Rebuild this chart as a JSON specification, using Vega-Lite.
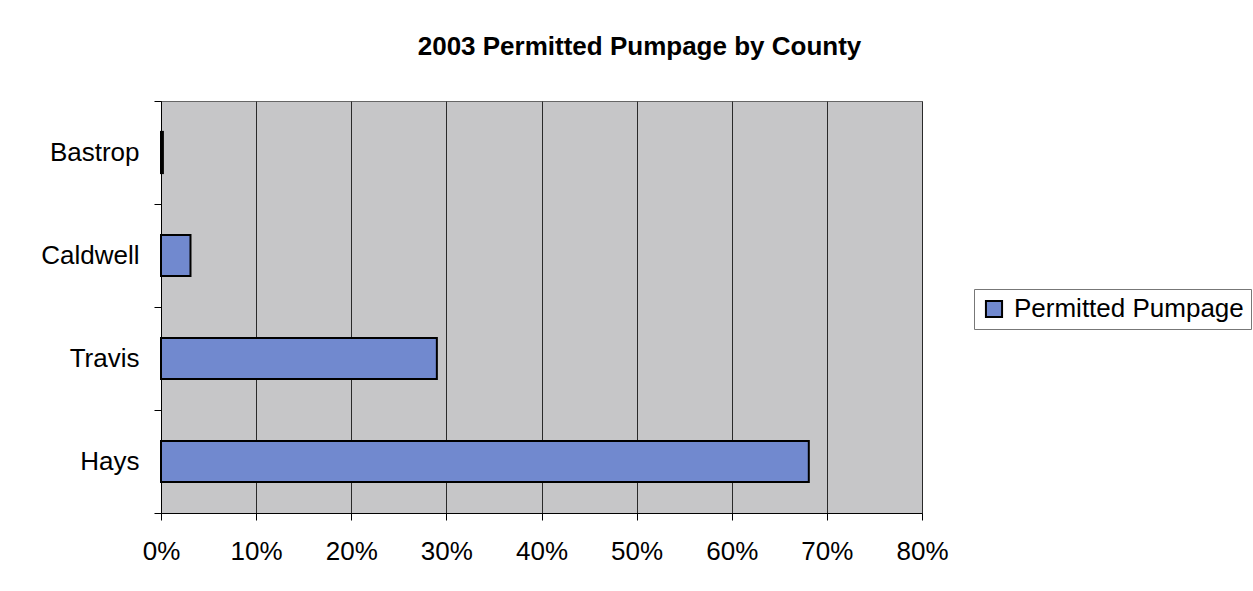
{
  "$schema": "https://vega.github.io/schema/vega-lite/v6.json",
  "width": 761,
  "height": 412,
  "autosize": {"type": "none"},
  "padding": {"left": 161, "top": 101, "right": 331, "bottom": 78},
  "background": "white",
  "title": {
    "text": "2003 Permitted Pumpage by County",
    "font": "Liberation Sans",
    "fontSize": 26,
    "fontWeight": "bold",
    "color": "black",
    "anchor": "middle",
    "dx": 98,
    "offset": 28
  },
  "data": {
    "values": [
      {"county": "Bastrop", "share": 0.002},
      {"county": "Caldwell", "share": 0.031},
      {"county": "Travis", "share": 0.29},
      {"county": "Hays", "share": 0.681}
    ]
  },
  "mark": {"type": "bar", "stroke": "black", "strokeWidth": 2, "height": {"band": 0.4}},
  "encoding": {
    "y": {
      "field": "county",
      "type": "nominal",
      "sort": ["Bastrop", "Caldwell", "Travis", "Hays"],
      "scale": {"paddingInner": 0, "paddingOuter": 0},
      "axis": {
        "title": null,
        "tickBand": "extent",
        "tickSize": 7,
        "tickColor": "black",
        "domainColor": "black",
        "labelFont": "Liberation Sans",
        "labelFontSize": 26,
        "labelColor": "black",
        "labelPadding": 15,
        "grid": false
      }
    },
    "x": {
      "field": "share",
      "type": "quantitative",
      "scale": {"domain": [0, 0.8], "nice": false},
      "axis": {
        "title": null,
        "values": [0, 0.1, 0.2, 0.3, 0.4, 0.5, 0.6, 0.7, 0.8],
        "format": ".0%",
        "tickSize": 7,
        "tickColor": "black",
        "domainColor": "black",
        "grid": true,
        "gridColor": "#2a2a2a",
        "gridOpacity": 1,
        "labelFlush": false,
        "labelFont": "Liberation Sans",
        "labelFontSize": 26,
        "labelColor": "black",
        "labelPadding": 18
      }
    },
    "color": {
      "datum": "Permitted Pumpage",
      "type": "nominal",
      "scale": {"range": ["#7189cf"]},
      "legend": {
        "title": null,
        "orient": "none",
        "legendX": 813,
        "legendY": 188,
        "padding": 7,
        "strokeColor": "#777777",
        "fillColor": "white",
        "symbolType": "square",
        "symbolSize": 260,
        "symbolStrokeColor": "black",
        "symbolStrokeWidth": 2,
        "symbolOpacity": 1,
        "labelFont": "Liberation Sans",
        "labelFontSize": 26,
        "labelColor": "black",
        "labelOffset": 7,
        "labelLimit": 400
      }
    }
  },
  "config": {
    "view": {"fill": "#c6c6c8", "stroke": "#666666", "strokeWidth": 1}
  }
}
